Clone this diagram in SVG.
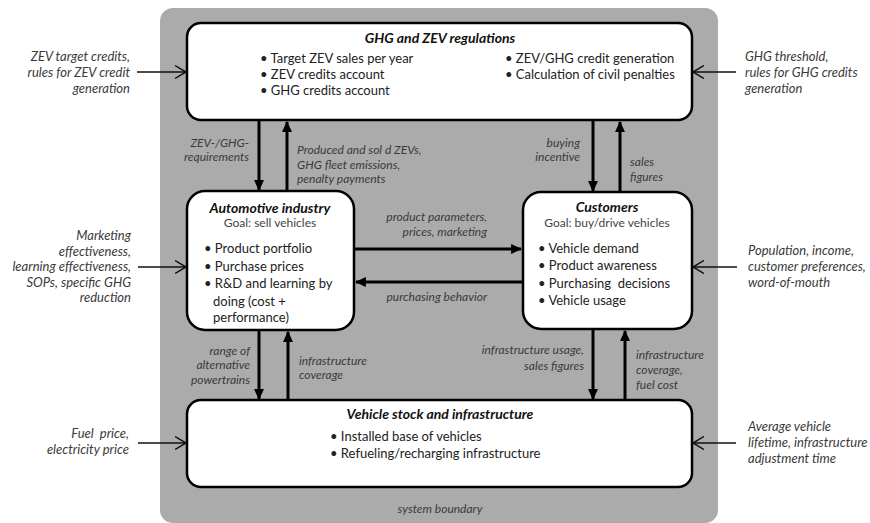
<svg xmlns="http://www.w3.org/2000/svg" width="870" height="523" viewBox="0 0 870 523">
<defs>
<style>
.t{font-family:Lato,"Open Sans","Liberation Sans",sans-serif}
.box{fill:#fff;stroke:#000;stroke-width:2.5}
.title{font-weight:bold;font-style:italic;font-size:14px;fill:#111}
.b{font-size:13px;fill:#222}
.goal{font-size:12px;fill:#444}
.lab{font-style:italic;font-size:12px;fill:#3a3a3a}
.out{font-style:italic;font-size:13px;fill:#3a3a3a}
.conn{stroke:#000;stroke-width:3;fill:none}
.inp{stroke:#111;stroke-width:1.5;fill:none}
</style>
<marker id="ah" viewBox="0 0 10 10" refX="9" refY="5" markerWidth="11" markerHeight="11" markerUnits="userSpaceOnUse" orient="auto">
<path d="M0,0.5 L10,5 L0,9.5 z" fill="#000"/>
</marker>
<marker id="oh" viewBox="0 0 12 14" refX="11" refY="7" markerWidth="12" markerHeight="14" markerUnits="userSpaceOnUse" orient="auto">
<path d="M0,0.5 L11,7 L0,13.5" fill="none" stroke="#111" stroke-width="1.5"/>
</marker>
</defs>
<rect width="870" height="523" fill="#fff"/>
<g id="system-boundary">
<rect x="160" y="8" width="558" height="515" rx="13" fill="#ababab"/>
<text class="t lab" x="440" y="513" text-anchor="middle" font-size="11">system boundary</text>
</g>

<g id="connectors">
<line class="conn" x1="259" y1="121" x2="259" y2="190" marker-end="url(#ah)"/>
<line class="conn" x1="287" y1="190" x2="287" y2="122" marker-end="url(#ah)"/>
<line class="conn" x1="593" y1="121" x2="593" y2="191" marker-end="url(#ah)"/>
<line class="conn" x1="620" y1="191" x2="620" y2="122" marker-end="url(#ah)"/>
<line class="conn" x1="355" y1="249" x2="521" y2="249" marker-end="url(#ah)"/>
<line class="conn" x1="522" y1="282" x2="356" y2="282" marker-end="url(#ah)"/>
<line class="conn" x1="259" y1="331" x2="259" y2="399" marker-end="url(#ah)"/>
<line class="conn" x1="288" y1="399" x2="288" y2="332" marker-end="url(#ah)"/>
<line class="conn" x1="593" y1="330" x2="593" y2="399" marker-end="url(#ah)"/>
<line class="conn" x1="625" y1="399" x2="625" y2="331" marker-end="url(#ah)"/>
<line class="inp" x1="137" y1="72" x2="186" y2="72" marker-end="url(#oh)"/>
<line class="inp" x1="736" y1="72" x2="693" y2="72" marker-end="url(#oh)"/>
<line class="inp" x1="138" y1="267" x2="186" y2="267" marker-end="url(#oh)"/>
<line class="inp" x1="737" y1="267" x2="693" y2="267" marker-end="url(#oh)"/>
<line class="inp" x1="138" y1="443" x2="186" y2="443" marker-end="url(#oh)"/>
<line class="inp" x1="736" y1="443" x2="693" y2="443" marker-end="url(#oh)"/>
<g class="t lab">
<text x="249" y="147" text-anchor="end">ZEV-/GHG-</text>
<text x="249" y="161" text-anchor="end">requirements</text>
<text x="297" y="154">Produced and sol d ZEVs,</text>
<text x="297" y="169">GHG fleet emissions,</text>
<text x="297" y="183">penalty payments</text>
<text x="580" y="147" text-anchor="end">buying</text>
<text x="580" y="161" text-anchor="end">incentive</text>
<text x="630" y="166">sales</text>
<text x="630" y="181">figures</text>
<text x="487" y="221" text-anchor="end">product parameters,</text>
<text x="487" y="236" text-anchor="end">prices, marketing</text>
<text x="487" y="301" text-anchor="end">purchasing behavior</text>
<text x="250" y="355" text-anchor="end">range of</text>
<text x="250" y="369" text-anchor="end">alternative</text>
<text x="250" y="384" text-anchor="end">powertrains</text>
<text x="299" y="365">infrastructure</text>
<text x="299" y="379">coverage</text>
<text x="584" y="354" text-anchor="end">infrastructure usage,</text>
<text x="584" y="370" text-anchor="end">sales figures</text>
<text x="636" y="359">infrastructure</text>
<text x="636" y="374">coverage,</text>
<text x="636" y="389">fuel cost</text>
</g>
</g>

<g id="inputs" class="t out">
<text x="130" y="61" text-anchor="end">ZEV target credits,</text>
<text x="130" y="77" text-anchor="end">rules for ZEV credit</text>
<text x="130" y="93" text-anchor="end">generation</text>
<text x="745" y="61">GHG threshold,</text>
<text x="745" y="77">rules for GHG credits</text>
<text x="745" y="93">generation</text>
<text x="131" y="240" text-anchor="end">Marketing</text>
<text x="131" y="255.5" text-anchor="end">effectiveness,</text>
<text x="131" y="271" text-anchor="end">learning effectiveness,</text>
<text x="131" y="286.5" text-anchor="end">SOPs, specific GHG</text>
<text x="131" y="302" text-anchor="end">reduction</text>
<text x="748" y="255">Population, income,</text>
<text x="748" y="271">customer preferences,</text>
<text x="748" y="287">word-of-mouth</text>
<text x="129" y="438" text-anchor="end" xml:space="preserve">Fuel  price,</text>
<text x="129" y="454" text-anchor="end">electricity price</text>
<text x="748" y="431">Average vehicle</text>
<text x="748" y="447">lifetime, infrastructure</text>
<text x="748" y="463">adjustment time</text>
</g>

<g id="ghg-zev-regulations">
<rect class="box" x="187" y="23" width="505" height="97" rx="14"/>
<text class="t title" x="440" y="43" text-anchor="middle">GHG and ZEV regulations</text>
<g class="t b">
<text x="260" y="63">• Target ZEV sales per year</text>
<text x="260" y="79">• ZEV credits account</text>
<text x="260" y="95">• GHG credits account</text>
<text x="505" y="63">• ZEV/GHG credit generation</text>
<text x="505" y="79">• Calculation of civil penalties</text>
</g>
</g>

<g id="automotive-industry">
<rect class="box" x="187" y="191" width="167" height="139" rx="18"/>
<text class="t title" x="270" y="213" text-anchor="middle" font-size="15">Automotive industry</text>
<text class="t goal" x="270" y="227" text-anchor="middle">Goal: sell vehicles</text>
<g class="t b" font-size="13.5">
<text x="204" y="253">• Product portfolio</text>
<text x="204" y="271">• Purchase prices</text>
<text x="204" y="288">• R&amp;D and learning by</text>
<text x="213" y="306">doing (cost +</text>
<text x="213" y="322">performance)</text>
</g>
</g>

<g id="customers">
<rect class="box" x="523" y="192" width="169" height="137" rx="18"/>
<text class="t title" x="607" y="212" text-anchor="middle" font-size="15">Customers</text>
<text class="t goal" x="607" y="227" text-anchor="middle">Goal: buy/drive vehicles</text>
<g class="t b" font-size="13.5">
<text x="538" y="253">• Vehicle demand</text>
<text x="538" y="270">• Product awareness</text>
<text x="538" y="288" xml:space="preserve">• Purchasing  decisions</text>
<text x="538" y="305">• Vehicle usage</text>
</g>
</g>

<g id="vehicle-stock">
<rect class="box" x="187" y="400" width="505" height="87" rx="14"/>
<text class="t title" x="440" y="419" text-anchor="middle">Vehicle stock and infrastructure</text>
<g class="t b">
<text x="330" y="441">• Installed base of vehicles</text>
<text x="330" y="458">• Refueling/recharging infrastructure</text>
</g>
</g>
</svg>
